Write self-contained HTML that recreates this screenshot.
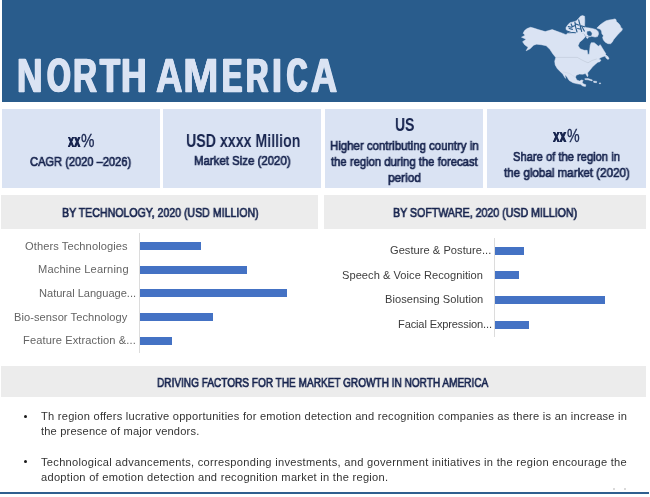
<!DOCTYPE html>
<html><head><meta charset="utf-8"><title>North America</title><style>
html,body{margin:0;padding:0;background:#fff;}
body{width:650px;height:497px;position:relative;overflow:hidden;font-family:"Liberation Sans",sans-serif;}
.t{position:absolute;white-space:pre;line-height:1;transform-origin:0 0;will-change:transform;}
.g{display:inline-block;transform-origin:0 0;white-space:pre;}
.r{position:absolute;}
svg{position:absolute;left:0;top:0;}
</style></head><body>
<div class="r" style="left:1.5px;top:0px;width:644px;height:102.3px;background:#295c8c"></div>
<div class="r" style="left:1.5px;top:109px;width:158.5px;height:79px;background:#dae3f3"></div>
<div class="r" style="left:163.3px;top:109px;width:157.9px;height:79px;background:#dae3f3"></div>
<div class="r" style="left:325.3px;top:109px;width:158px;height:79px;background:#dae3f3"></div>
<div class="r" style="left:487.2px;top:109px;width:158.6px;height:79px;background:#dae3f3"></div>
<div class="r" style="left:1.3px;top:195.2px;width:316.7px;height:33.8px;background:#ececec"></div>
<div class="r" style="left:323.8px;top:195.2px;width:322px;height:33.8px;background:#ececec"></div>
<div class="r" style="left:1.3px;top:366px;width:644.5px;height:31.4px;background:#ececec"></div>
<div class="r" style="left:0px;top:492.3px;width:649px;height:2px;background:#2f5f8f"></div>
<div class="r" style="left:139px;top:233px;width:1px;height:119.5px;background:#dcdcdc"></div>
<div class="r" style="left:494px;top:237.8px;width:1px;height:98.9px;background:#dcdcdc"></div>
<div class="r" style="left:140px;top:241.8px;width:61px;height:8px;background:#4472c4"></div>
<div class="r" style="left:140px;top:265.5px;width:106.8px;height:8px;background:#4472c4"></div>
<div class="r" style="left:140px;top:289.2px;width:146.5px;height:8px;background:#4472c4"></div>
<div class="r" style="left:140px;top:313px;width:72.9px;height:8px;background:#4472c4"></div>
<div class="r" style="left:140px;top:336.8px;width:32.3px;height:8px;background:#4472c4"></div>
<div class="r" style="left:495px;top:246.6px;width:29.4px;height:8.1px;background:#4472c4"></div>
<div class="r" style="left:495px;top:271.2px;width:24.1px;height:8.1px;background:#4472c4"></div>
<div class="r" style="left:495px;top:295.9px;width:110px;height:8.1px;background:#4472c4"></div>
<div class="r" style="left:495px;top:320.6px;width:34.2px;height:8.1px;background:#4472c4"></div>
<div class="r" style="left:23.6px;top:414.5px;width:3.6px;height:3.6px;border-radius:50%;background:#1a1a1a"></div>
<div class="r" style="left:23.6px;top:459.9px;width:3.6px;height:3.6px;border-radius:50%;background:#1a1a1a"></div>
<div class="r" style="left:613.4px;top:487.8px;width:1.8px;height:1.8px;border-radius:50%;background:#cfcfcf"></div>
<div class="r" style="left:623.8px;top:487.8px;width:1.8px;height:1.8px;border-radius:50%;background:#cfcfcf"></div>
<svg width="650" height="497" viewBox="0 0 650 497"><path d="M527.1,28.6 L530.6,27.3 L533.6,28.1 L538.2,29.6 L545.2,31.6 L548.7,30.6 L552.2,29.6 L556.3,31.1 L562.3,33.2 L566.0,34.7 L567.6,33.2 L573.1,33.7 L577.1,32.7 L581.6,32.7 L584.2,34.2 L585.2,36.7 L583.2,39.2 L579.6,42.2 L578.1,45.7 L580.1,48.8 L584.2,50.3 L587.2,50.3 L587.7,54.3 L589.2,54.3 L589.7,49.8 L590.2,45.2 L591.2,42.7 L594.2,42.7 L596.7,44.7 L598.3,46.2 L600.3,44.7 L601.8,47.2 L604.3,51.3 L606.0,54.0 L605.3,54.4 L606.9,55.8 L604.2,56.3 L601.0,57.4 L598.8,59.0 L601.0,60.1 L599.9,61.7 L597.8,62.2 L594.5,64.9 L592.4,67.1 L590.2,69.8 L587.5,73.0 L588.1,75.2 L587.5,76.8 L586.5,75.2 L585.4,73.5 L582.7,74.3 L579.5,74.1 L576.2,75.2 L575.5,77.3 L576.8,80.0 L579.5,81.1 L581.6,80.0 L583.2,80.5 L582.2,82.2 L583.2,83.8 L585.9,84.8 L585.4,86.5 L582.7,85.9 L580.5,84.3 L577.3,83.8 L573.0,82.7 L569.2,80.5 L566.5,76.2 L565.0,74.8 L565.5,78.4 L563.6,75.5 L562.8,74.1 L560.6,71.9 L557.4,68.7 L555.2,64.9 L554.7,61.2 L555.8,57.4 L553.1,54.2 L549.8,49.3 L546.2,45.7 L541.2,44.7 L536.6,44.2 L533.6,45.2 L530.1,48.8 L526.1,50.8 L528.1,47.3 L524.6,44.7 L522.6,41.7 L526.1,39.2 L521.5,37.2 L525.1,35.2 L523.1,33.2 L524.6,30.6Z" fill="#dae3f3" stroke="#dae3f3" stroke-width="0.5" stroke-linejoin="round"/><path d="M596.9,28.1 L599.9,25.0 L603.0,22.7 L606.1,20.8 L609.1,20.0 L612.2,19.6 L614.8,18.9 L616.0,19.6 L616.4,21.6 L618.7,23.5 L620.2,25.4 L621.0,27.7 L622.5,28.8 L621.7,30.7 L619.8,32.6 L617.5,34.9 L615.6,37.2 L613.7,39.5 L612.2,42.2 L610.6,43.7 L608.0,43.7 L605.3,42.2 L603.4,39.9 L602.6,37.6 L603.4,35.7 L601.9,33.8 L601.5,31.1 L600.3,29.2Z" fill="#dae3f3" stroke="#dae3f3" stroke-width="0.5" stroke-linejoin="round"/><path d="M605.3,56.3 L607.5,56.0 L609.1,58.5 L608.0,59.5 L606.0,58.0Z" fill="#dae3f3" stroke="#dae3f3" stroke-width="0.5" stroke-linejoin="round"/><path d="M584.8,78.7 L588.0,78.6 L592.4,80.0 L592.0,80.9 L588.0,79.8 L585.0,79.6Z" fill="#dae3f3" stroke="#dae3f3" stroke-width="0.5" stroke-linejoin="round"/><path d="M593.5,81.1 L596.7,81.4 L596.5,82.7 L593.8,82.4Z" fill="#dae3f3" stroke="#dae3f3" stroke-width="0.5" stroke-linejoin="round"/><path d="M599.3,82.9 L600.6,82.9 L600.6,83.7 L599.3,83.7Z" fill="#dae3f3" stroke="#dae3f3" stroke-width="0.5" stroke-linejoin="round"/><path d="M566.0,27.6 L567.7,25.1 L569.9,22.7 L573.0,22.0 L576.2,20.9 L578.0,19.2 L580.4,16.3 L582.5,15.6 L584.6,16.3 L584.8,20.6 L584.6,26.2 L585.7,27.6 L589.6,28.0 L593.1,28.7 L596.3,29.7 L598.2,31.7 L598.6,33.9 L597.5,36.6 L595.1,37.1 L591.7,36.3 L589.9,36.8 L587.8,36.5 L585.5,36.2 L584.8,34.3 L581.1,32.7 L577.6,33.4 L574.1,33.7 L570.6,33.0 L567.7,31.3 L566.0,29.2Z" fill="#dae3f3" stroke="#dae3f3" stroke-width="0.5" stroke-linejoin="round"/><path d="M555.8,57.4 L577.3,57.4 L581,59.5 L585,61.5 L588,62.8 L592,60.5 L596.7,59" fill="none" stroke="#b9c2d0" stroke-width="0.5"/><path d="M562.8,71.9 L569.8,73.5 L572.5,75.5 L575.7,77.3" fill="none" stroke="#c5cedd" stroke-width="0.4"/><path d="M574.9,22.1 L575.6,26.9 L577.0,32.0 M578.7,19.9 L580.1,25.5 L581.7,31.5 M568.3,26.6 L571.3,27.3 L574.4,25.8 M566.8,31.0 L570.6,32.3 L575.4,32.7 M581.1,25.9 L584.6,26.8 M575.9,23.9 L578.5,25.1 M571.1,23.9 L572.4,26.8 M569.2,28.5 L572.4,29.4 M577.6,28.5 L580.1,29.0 M582.4,27.6 L584.3,31.1" fill="none" stroke="#295c8c" stroke-width="1.15" stroke-linecap="round" stroke-linejoin="round"/><path d="M587.3,31.7 L590.1,31.3 L591.7,33.2 L591.2,35.4 L588.9,35.7 L587.3,34.3Z" fill="#295c8c" stroke="#295c8c" stroke-width="0.5" stroke-linejoin="round"/><path d="M586.2,37.3 L587.6,36.8 L588.5,37.6 L587.1,38.5Z" fill="#dae3f3" stroke="#dae3f3" stroke-width="0.5" stroke-linejoin="round"/></svg>
<div class="t" style="left:17.15px;top:52.00px;font-size:47.4px;color:#dae3f3;"><span class="g" style="font-weight:bold;width:29.51px;-webkit-text-stroke:0.6px #dae3f3;text-shadow:0.96px 0 0 #dae3f3,-0.96px 0 0 #dae3f3;transform:scaleX(0.7443);">N</span><span class="g" style="font-weight:bold;width:26.67px;-webkit-text-stroke:0.6px #dae3f3;text-shadow:1.7px 0 0 #dae3f3,-1.7px 0 0 #dae3f3;transform:scaleX(0.6415);">O</span><span class="g" style="font-weight:bold;width:26.76px;-webkit-text-stroke:0.6px #dae3f3;text-shadow:1.24px 0 0 #dae3f3,-1.24px 0 0 #dae3f3;transform:scaleX(0.7018);">R</span><span class="g" style="font-weight:bold;width:20.92px;-webkit-text-stroke:0.6px #dae3f3;text-shadow:1.34px 0 0 #dae3f3,-1.34px 0 0 #dae3f3;transform:scaleX(0.6883);">T</span><span class="g" style="font-weight:bold;width:35.39px;-webkit-text-stroke:0.6px #dae3f3;text-shadow:0.93px 0 0 #dae3f3,-0.93px 0 0 #dae3f3;transform:scaleX(0.7491);">H </span><span class="g" style="font-weight:bold;width:27.29px;-webkit-text-stroke:0.6px #dae3f3;text-shadow:0.77px 0 0 #dae3f3,-0.77px 0 0 #dae3f3;transform:scaleX(0.7759);">A</span><span class="g" style="font-weight:bold;width:38.83px;-webkit-text-stroke:0.6px #dae3f3;text-shadow:0.14px 0 0 #dae3f3,-0.14px 0 0 #dae3f3;transform:scaleX(0.9047);">M</span><span class="g" style="font-weight:bold;width:24.02px;-webkit-text-stroke:0.6px #dae3f3;text-shadow:1.7px 0 0 #dae3f3,-1.7px 0 0 #dae3f3;transform:scaleX(0.6418);">E</span><span class="g" style="font-weight:bold;width:25.82px;-webkit-text-stroke:0.6px #dae3f3;text-shadow:1.59px 0 0 #dae3f3,-1.59px 0 0 #dae3f3;transform:scaleX(0.6544);">R</span><span class="g" style="font-weight:bold;width:14.48px;-webkit-text-stroke:0.6px #dae3f3;text-shadow:0.99px 0 0 #dae3f3,-0.99px 0 0 #dae3f3;transform:scaleX(0.7500);">I</span><span class="g" style="font-weight:bold;width:23.92px;-webkit-text-stroke:0.6px #dae3f3;text-shadow:2.18px 0 0 #dae3f3,-2.18px 0 0 #dae3f3;transform:scaleX(0.5887);">C</span><span class="g" style="font-weight:bold;-webkit-text-stroke:0.6px #dae3f3;text-shadow:0.84px 0 0 #dae3f3,-0.84px 0 0 #dae3f3;transform:scaleX(0.7639);">A</span></div>
<div class="t" style="left:67.91px;top:133.00px;font-size:17.6px;color:#18254f;"><span class="g" style="font-weight:bold;width:12.74px;text-shadow:0.5px 0 0 #18254f,-0.5px 0 0 #18254f;transform:scaleX(0.6283);">xx</span><span class="g" style="font-weight:normal;-webkit-text-stroke:0.3px #18254f;transform:scaleX(0.8601);">%</span></div>
<div class="t" style="left:30.08px;top:156.00px;font-size:12.7px;font-weight:normal;color:#18254f;-webkit-text-stroke:0.7px #18254f;transform:scaleX(0.8740);">CAGR (2020 –2026)</div>
<div class="t" style="left:185.53px;top:133.00px;font-size:17.7px;font-weight:bold;color:#18254f;transform:scaleX(0.8023);">USD xxxx Million</div>
<div class="t" style="left:194.31px;top:155.00px;font-size:12.7px;font-weight:normal;color:#18254f;-webkit-text-stroke:0.7px #18254f;transform:scaleX(0.9010);">Market Size (2020)</div>
<div class="t" style="left:395.24px;top:117.00px;font-size:17.8px;font-weight:bold;color:#18254f;transform:scaleX(0.7863);">US</div>
<div class="t" style="left:329.91px;top:140.00px;font-size:12.7px;font-weight:normal;color:#18254f;-webkit-text-stroke:0.7px #18254f;transform:scaleX(0.9004);">Higher contributing country in</div>
<div class="t" style="left:330.68px;top:156.00px;font-size:12.7px;font-weight:normal;color:#18254f;-webkit-text-stroke:0.7px #18254f;transform:scaleX(0.8887);">the region during the forecast</div>
<div class="t" style="left:388.08px;top:172.00px;font-size:12.7px;font-weight:normal;color:#18254f;-webkit-text-stroke:0.7px #18254f;transform:scaleX(0.9311);">period</div>
<div class="t" style="left:553.34px;top:128.00px;font-size:17.6px;color:#18254f;"><span class="g" style="font-weight:bold;width:14.34px;text-shadow:0.5px 0 0 #18254f,-0.5px 0 0 #18254f;transform:scaleX(0.6767);">xx</span><span class="g" style="font-weight:normal;-webkit-text-stroke:0.3px #18254f;transform:scaleX(0.8063);">%</span></div>
<div class="t" style="left:513.42px;top:151.00px;font-size:12.7px;font-weight:normal;color:#18254f;-webkit-text-stroke:0.7px #18254f;transform:scaleX(0.8810);">Share of the region in</div>
<div class="t" style="left:503.88px;top:167.00px;font-size:12.7px;font-weight:normal;color:#18254f;-webkit-text-stroke:0.7px #18254f;transform:scaleX(0.9148);">the global market (2020)</div>
<div class="t" style="left:61.55px;top:207.00px;font-size:12.6px;font-weight:normal;color:#18254f;-webkit-text-stroke:0.7px #18254f;transform:scaleX(0.8414);">BY TECHNOLOGY, 2020 (USD MILLION)</div>
<div class="t" style="left:392.55px;top:207.00px;font-size:12.6px;font-weight:normal;color:#18254f;-webkit-text-stroke:0.7px #18254f;transform:scaleX(0.8431);">BY SOFTWARE, 2020 (USD MILLION)</div>
<div class="t" style="left:157.48px;top:377.00px;font-size:12.6px;font-weight:normal;color:#18254f;-webkit-text-stroke:0.7px #18254f;transform:scaleX(0.7987);">DRIVING FACTORS FOR THE MARKET GROWTH IN NORTH AMERICA</div>
<div class="t" style="left:25.00px;top:241.00px;font-size:11.1px;font-weight:normal;color:#646464;letter-spacing:0.092px;transform:scaleX(1.0000);">Others Technologies</div>
<div class="t" style="left:37.80px;top:264.00px;font-size:11.1px;font-weight:normal;color:#646464;letter-spacing:0.158px;transform:scaleX(1.0000);">Machine Learning</div>
<div class="t" style="left:39.00px;top:288.00px;font-size:11.1px;font-weight:normal;color:#646464;letter-spacing:-0.021px;transform:scaleX(1.0000);">Natural Language...</div>
<div class="t" style="left:14.00px;top:312.00px;font-size:11.1px;font-weight:normal;color:#646464;letter-spacing:0.058px;transform:scaleX(1.0000);">Bio-sensor Technology</div>
<div class="t" style="left:23.30px;top:335.00px;font-size:11.1px;font-weight:normal;color:#646464;letter-spacing:0.109px;transform:scaleX(1.0000);">Feature Extraction &amp;...</div>
<div class="t" style="left:390.35px;top:245.00px;font-size:11.1px;font-weight:normal;color:#3c3c3c;letter-spacing:0.038px;transform:scaleX(1.0000);">Gesture &amp; Posture...</div>
<div class="t" style="left:341.90px;top:270.00px;font-size:11.1px;font-weight:normal;color:#3c3c3c;letter-spacing:0.039px;transform:scaleX(1.0000);">Speech &amp; Voice Recognition</div>
<div class="t" style="left:384.60px;top:294.00px;font-size:11.1px;font-weight:normal;color:#3c3c3c;letter-spacing:0.046px;transform:scaleX(1.0000);">Biosensing Solution</div>
<div class="t" style="left:397.60px;top:319.00px;font-size:11.1px;font-weight:normal;color:#3c3c3c;letter-spacing:-0.149px;transform:scaleX(1.0000);">Facial Expression...</div>
<div class="t" style="left:41.20px;top:411.00px;font-size:11.1px;font-weight:normal;color:#333333;letter-spacing:0.252px;transform:scaleX(1.0000);">Th region offers lucrative opportunities for emotion detection and recognition companies as there is an increase in</div>
<div class="t" style="left:41.25px;top:426.00px;font-size:11.1px;font-weight:normal;color:#333333;letter-spacing:0.183px;transform:scaleX(1.0000);">the presence of major vendors.</div>
<div class="t" style="left:41.20px;top:457.00px;font-size:11.1px;font-weight:normal;color:#333333;letter-spacing:0.29px;transform:scaleX(1.0000);">Technological advancements, corresponding investments, and government initiatives in the region encourage the</div>
<div class="t" style="left:40.95px;top:472.00px;font-size:11.1px;font-weight:normal;color:#333333;letter-spacing:0.278px;transform:scaleX(1.0000);">adoption of emotion detection and recognition market in the region.</div>
</body></html>
